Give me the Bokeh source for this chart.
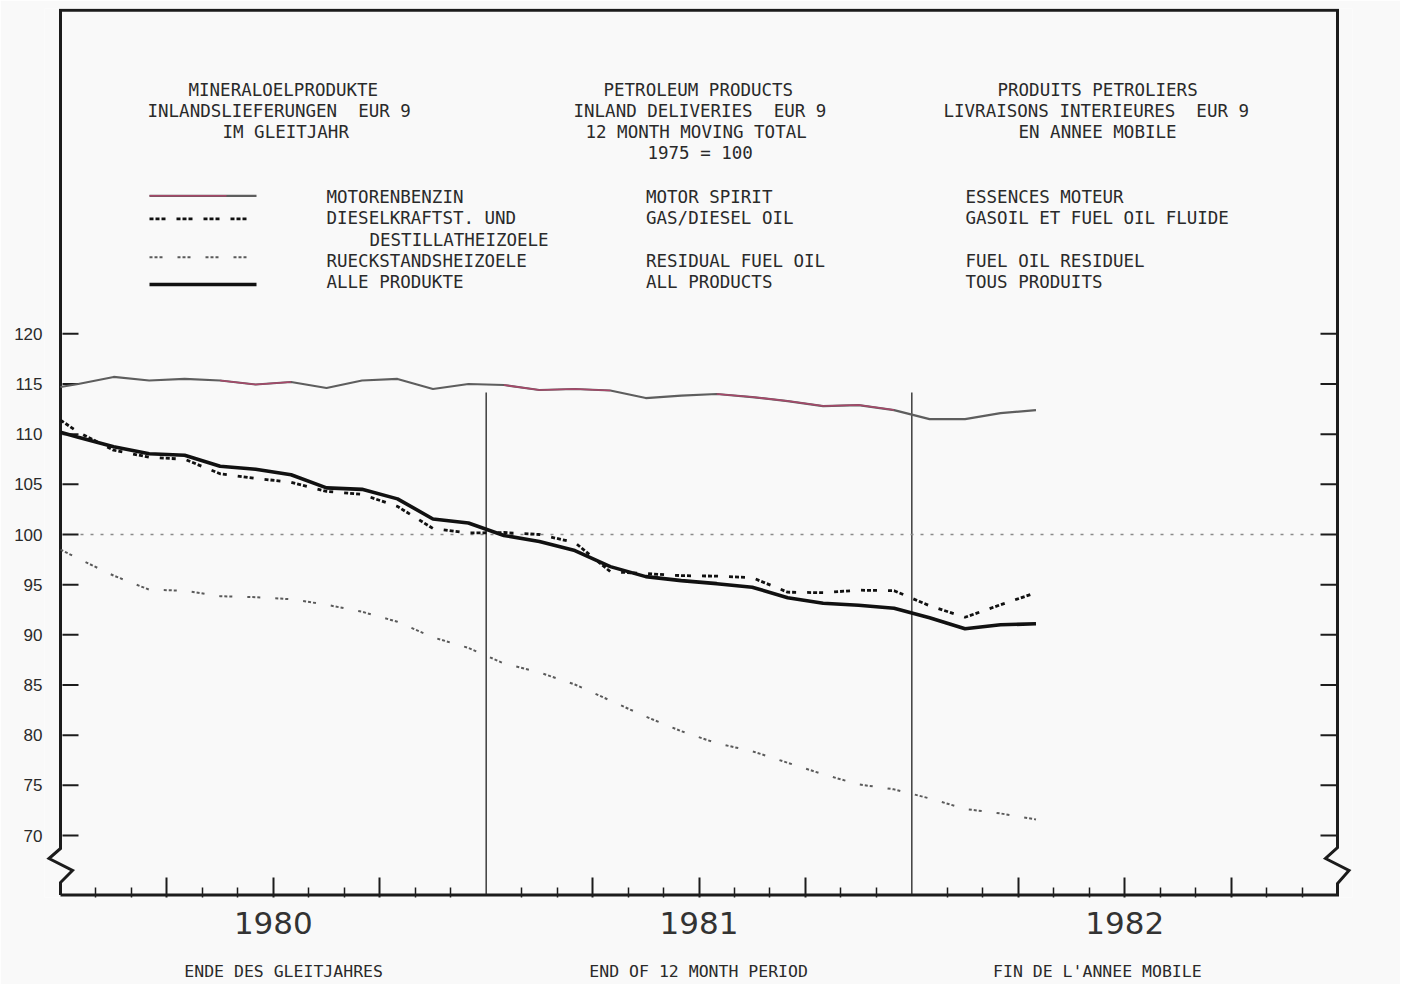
from bokeh.plotting import figure
from bokeh.models import Range1d, LinearAxis, FixedTicker, Label, LabelSet, ColumnDataSource
from bokeh.core.properties import value
from bokeh.embed import file_html
from bokeh.resources import INLINE

# ---------------- data (index 1975 = 100, 12 month moving total) ----------------
# month_index 0 = start of Jan 1980 (left edge); 1 = Jan 1980 ... 28 = Apr 1982 (plotted mid-month)
month_index = list(range(29))
motor_spirit = [114.7, 115.0, 115.7, 115.35, 115.5, 115.35, 114.95, 115.2, 114.6, 115.35,
                115.5, 114.5, 115.0, 114.9, 114.4, 114.5, 114.35, 113.6, 113.85, 114.0,
                113.7, 113.3, 112.8, 112.9, 112.4, 111.5, 111.5, 112.1, 112.4]
gas_diesel = [111.4, 110.2, 108.4, 107.7, 107.5, 106.05, 105.6, 105.2, 104.3, 104.0,
              102.8, 100.6, 100.15, 100.2, 100.0, 99.2, 96.3, 96.1, 95.9, 95.85,
              95.7, 94.25, 94.2, 94.45, 94.4, 92.9, 91.75, 93.0, 94.2]
residual_fuel = [98.5, 97.6, 95.9, 94.5, 94.4, 93.85, 93.75, 93.55, 93.0, 92.3,
                 91.3, 89.75, 88.7, 87.15, 86.25, 85.05, 83.45, 81.85, 80.4, 79.2,
                 78.4, 77.25, 76.1, 75.1, 74.6, 73.7, 72.65, 72.2, 71.6]
all_products = [110.2, 109.7, 108.75, 108.05, 107.9, 106.8, 106.5, 105.95, 104.65, 104.5,
                103.55, 101.55, 101.15, 99.9, 99.3, 98.4, 96.8, 95.8, 95.4, 95.1,
                94.75, 93.7, 93.15, 92.95, 92.65, 91.7, 90.6, 91.0, 91.1]
y_ticks = [70, 75, 80, 85, 90, 95, 100, 105, 110, 115, 120]
year_labels = ["1980", "1981", "1982"]
year_mid = [6, 18, 30]
year_boundaries = [12, 24]
quarter_ticks = [3, 6, 9, 15, 18, 21, 27, 30, 33]
month_ticks = [m for m in range(1, 36) if m % 3 != 0]
base_index = 100
period_notes = ["ENDE DES GLEITJAHRES", "END OF 12 MONTH PERIOD", "FIN DE L'ANNEE MOBILE"]
# segments of the motor-spirit trace that came out in the red pen
red_spans = [(5, 8), (13, 17), (19, 25)]

x_pos = [0.0 if i == 0 else i - 0.5 for i in month_index]

# ---------------- geometry helpers (page pixels -> data) ----------------
W, H = 1400, 984
OX, OY = 0, 0
PL, PR, PT, PB = 44, 1352, 8, 897
PX_MONTH = (1337 - 60) / 36.0
PX_UNIT = (835 - 333.3) / 50.0


def X(px):
    return (px - 60) / PX_MONTH


def Y(py):
    return 100 - (py - 534) / PX_UNIT


BG = "#f9f9f9"
INK = "#1c1c1c"
MONO = "DejaVu Sans Mono"
NB = "\u00a0"

p = figure(width=W, height=H, output_backend="svg", toolbar_location=None,
           x_range=Range1d(X(PL), X(PR)), y_range=Range1d(Y(PB), Y(PT)),
           x_axis_location=None, y_axis_location=None,
           min_border_left=PL - OX, min_border_right=OX + W - PR,
           min_border_top=PT - OY, min_border_bottom=OY + H - PB)
p.outline_line_color = None
p.background_fill_color = BG
p.border_fill_color = BG
p.grid.visible = False

# ---------------- axes ----------------
yax = LinearAxis(ticker=FixedTicker(ticks=y_ticks, minor_ticks=[]))
yax.axis_line_color = None
yax.major_tick_in = 0
yax.major_tick_out = 0
yax.minor_tick_line_color = None
yax.major_label_standoff = 2
yax.major_label_text_font = "Liberation Sans"
yax.major_label_text_font_size = "17px"
yax.major_label_text_color = "#2a2a2a"
p.add_layout(yax, "left")

xax = LinearAxis(ticker=FixedTicker(ticks=quarter_ticks, minor_ticks=month_ticks))
xax.axis_line_color = None
xax.major_tick_in = 20
xax.major_tick_out = 0
xax.minor_tick_in = 10
xax.minor_tick_out = 0
xax.major_tick_line_width = 2
xax.minor_tick_line_width = 1.5
xax.major_tick_line_color = INK
xax.minor_tick_line_color = INK
xax.major_label_overrides = {t: "" for t in quarter_ticks}
xax.major_label_overrides.update({m: lab for m, lab in zip(year_mid, year_labels)})
xax.major_label_standoff = 14
xax.major_label_text_font = "DejaVu Sans"
xax.major_label_text_font_size = "31px"
xax.major_label_text_color = "#333333"
p.add_layout(xax, "below")

# second axis row: notes under the year labels
note_pos = [round(X(283), 2), round(X(698), 2), round(X(1097), 2)]
nax = LinearAxis(ticker=FixedTicker(ticks=note_pos, minor_ticks=[]))
nax.axis_line_color = None
nax.major_tick_line_color = None
nax.minor_tick_line_color = None
nax.major_tick_in = 0
nax.major_tick_out = 0
nax.major_label_overrides = {t: s for t, s in zip(note_pos, period_notes)}
nax.major_label_standoff = 25
nax.major_label_text_font = MONO
nax.major_label_text_font_size = "16.5px"
nax.major_label_text_color = "#2a2a2a"
p.add_layout(nax, "below")

# right-hand tick labels
rsrc = ColumnDataSource(dict(y=y_ticks, text=[str(t) for t in y_ticks]))
p.add_layout(LabelSet(x=X(1386.5), y="y", text="text", source=rsrc,
                      text_align="right", text_baseline="middle",
                      text_font=value("Liberation Sans"), text_font_size="17px",
                      text_color="#2a2a2a"))

# y tick marks (inside, both sides)
p.segment(x0=X(62), x1=X(78), y0=y_ticks, y1=y_ticks, line_color=INK, line_width=2)
p.segment(x0=X(1320), x1=X(1336), y0=y_ticks, y1=y_ticks, line_color=INK, line_width=2)

# frame with axis-break zigzags
fx = [60, 60, 72, 48.5, 60, 60, 1337, 1337, 1325, 1348.5, 1337, 1337, 60]
fy = [894.5, 882, 870, 858, 848, 9.7, 9.7, 847, 858, 870, 883, 894.5, 894.5]
p.line([X(v) for v in fx], [Y(v) for v in fy], line_color=INK, line_width=3,
       line_join="miter")

# year boundary lines
p.segment(x0=year_boundaries, x1=year_boundaries, y0=Y(894), y1=Y(392),
          line_color="#222222", line_width=1.3)

# reference line at 100
p.segment(x0=X(80), x1=X(1318), y0=base_index, y1=base_index,
          line_color="#8a8a8a", line_width=1.3, line_dash="3 7")

# ---------------- series ----------------
p.line(x_pos, residual_fuel, line_color="#5a5a5a", line_width=2, line_dash="3 2 3 2 3 15")
p.line(x_pos, gas_diesel, line_color="#111111", line_width=2.8, line_dash="4 2 4 2 4 11")
p.line(x_pos, motor_spirit, line_color="#5e5e5e", line_width=2.2)
for a, b in red_spans:
    p.line(x_pos[a:b], motor_spirit[a:b], line_color="#a8486a", line_width=1.6)
p.line(x_pos, all_products, line_color="#111111", line_width=3.6)

# ---------------- legend samples ----------------
lx0, lx1 = X(149), X(256)
p.line([lx0, lx1], [Y(195.3)] * 2, line_color="#5e5e5e", line_width=2.2)
p.line([lx0, X(226)], [Y(195.3)] * 2, line_color="#a8486a", line_width=1.6)
p.line([lx0, lx1], [Y(218.3)] * 2, line_color="#111111", line_width=2.8, line_dash="4 2 4 2 4 11")
p.line([lx0, lx1], [Y(256.7)] * 2, line_color="#5a5a5a", line_width=2, line_dash="3 2 3 2 3 15")
p.line([lx0, lx1], [Y(284)] * 2, line_color="#111111", line_width=3.6)

# ---------------- texts ----------------
texts_left = [
    ("MINERALOELPRODUKTE", 188, 89), ("INLANDSLIEFERUNGEN" + NB + " EUR 9", 147, 110),
    ("IM GLEITJAHR", 222, 131),
    ("PETROLEUM PRODUCTS", 603, 89), ("INLAND DELIVERIES" + NB + " EUR 9", 573, 110),
    ("12 MONTH MOVING TOTAL", 585, 131), ("1975 = 100", 647, 152),
    ("PRODUITS PETROLIERS", 997, 89), ("LIVRAISONS INTERIEURES" + NB + " EUR 9", 943, 110),
    ("EN ANNEE MOBILE", 1018, 131),
    ("MOTORENBENZIN", 326, 196.5), ("DIESELKRAFTST. UND", 326, 217.5),
    ("DESTILLATHEIZOELE", 369, 239), ("RUECKSTANDSHEIZOELE", 326, 260), ("ALLE PRODUKTE", 326, 281.5),
    ("MOTOR SPIRIT", 645.5, 196.5), ("GAS/DIESEL OIL", 645.5, 217.5),
    ("RESIDUAL FUEL OIL", 645.5, 260), ("ALL PRODUCTS", 645.5, 281.5),
    ("ESSENCES MOTEUR", 965, 196.5), ("GASOIL ET FUEL OIL FLUIDE", 965, 217.5),
    ("FUEL OIL RESIDUEL", 965, 260), ("TOUS PRODUITS", 965, 281.5),
]
for t, px, py in texts_left:
    p.add_layout(Label(x=X(px), y=Y(py), text=t, text_font=MONO, text_font_size="17.5px",
                       text_align="left", text_baseline="middle", text_color="#2a2a2a"))

open("out.html", "w").write(file_html(p, INLINE))
